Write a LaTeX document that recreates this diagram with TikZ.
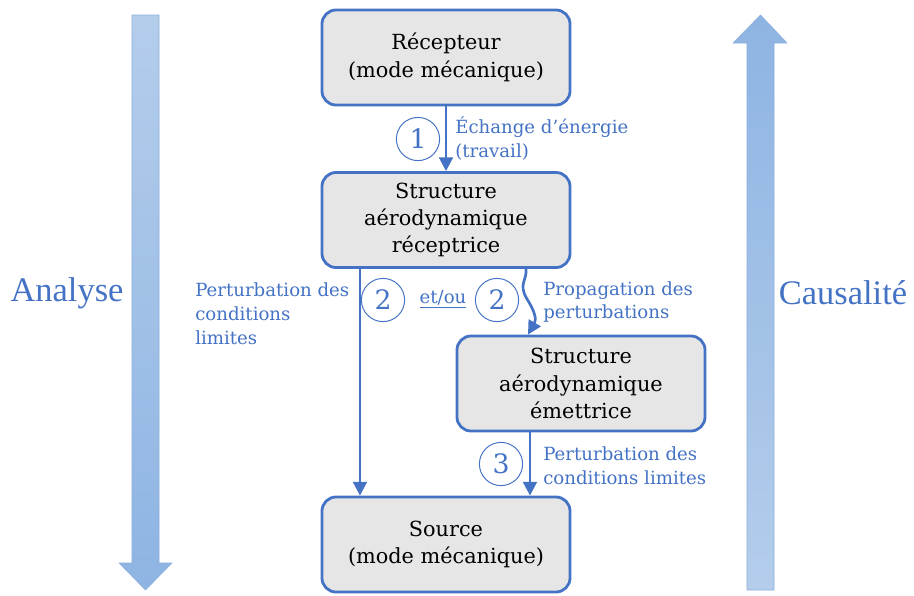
\documentclass[tikz,border=0pt]{standalone}
\usepackage{fontspec}
\setmainfont{DejaVu Serif}
\newfontfamily\bigserif{Liberation Serif}
\usetikzlibrary{arrows.meta,calc,positioning}
\definecolor{flowBlue}{HTML}{4472C4}
\definecolor{boxFill}{HTML}{E7E6E6}
\definecolor{bandLight}{HTML}{B4CDEB}
\definecolor{bandDark}{HTML}{8EB4E3}
\definecolor{bandEdge}{HTML}{8AAEDC}
\tikzset{
  box/.style={draw=flowBlue, line width=2pt, fill=boxFill, rounded corners=10pt,
    minimum width=6.2cm, minimum height=2.375cm, align=center, text=black,
    font=\fontsize{14.8}{19.5}\selectfont},
  flow/.style={flowBlue, line width=1.9pt, -{Triangle[length=3.4mm,width=3.4mm]}},
  stepnum/.style={circle, draw=flowBlue, line width=0.7pt, minimum size=1.08cm,
    inner sep=0pt, text=flowBlue, font=\fontsize{19}{19}\selectfont},
  note/.style={text=flowBlue, align=left, inner sep=0pt, anchor=west,
    font=\fontsize{12.9}{17}\selectfont},
  sidelabel/.style={text=flowBlue, font=\bigserif\fontsize{24.5}{24.5}\selectfont},
}
\begin{document}
\begin{tikzpicture}[x=0.025cm, y=-0.025cm, line cap=round, line join=round]
  \useasboundingbox (0,0) rectangle (914,595);

  % ---- Side arrows ----
  \shade[top color=bandLight, bottom color=bandDark, draw=bandEdge, line width=0.4pt]
    (132,15) -- (159,15) -- (159,563) -- (172,563) -- (145.5,590)
    -- (119,563) -- (132,563) -- cycle;
  \shade[top color=bandDark, bottom color=bandLight, draw=bandEdge, line width=0.4pt]
    (747,590) -- (747,43) -- (733,43) -- (760.5,15) -- (787,43)
    -- (774,43) -- (774,590) -- cycle;
  \node[sidelabel] (analyse) at (67,293) {Analyse};
  \node[sidelabel] (causal) at (843,293) {Causalité};

  % ---- Boxes ----
  \node[box] (recv) at (446,57.5) {Récepteur\\(mode mécanique)};
  \node[box] (struct) at (446,220) {Structure\\aérodynamique\\réceptrice};
  \node[box] (emit) at (581,383.5) {Structure\\aérodynamique\\émettrice};
  \node[box] (src) at (446,544.5) {Source\\(mode mécanique)};

  % ---- Connectors ----
  \draw[flow] (recv) -- (struct);
  \draw[flow] ([xshift=-2.15cm]struct.south) -- ([xshift=-2.15cm]src.north);
  \draw[flow] ([xshift=2cm]struct.south)
    .. controls (527,281) and (518,284) .. (527,299)
    .. controls (534,310) and (537,319) .. ([xshift=-1.325cm]emit.north);
  \draw[flow] ([xshift=-1.275cm]emit.south) -- ([xshift=-1.275cm]emit.south |- src.north);

  % ---- Step numbers ----
  \node[stepnum] (one) at (418,139) {1};
  \node[stepnum] (twoA) at (383,300) {2};
  \node[stepnum] (twoB) at (497,300) {2};
  \node[stepnum] (three) at (501,464) {3};
  \node[note, anchor=center] (andor) at (443,299) {\underline{et/ou}};

  % ---- Labels ----
  \node[note] (work) at (455,138.5) {Échange d’énergie\\(travail)};
  \node[note] (bcLeft) at (195,314) {Perturbation des\\conditions\\limites};
  \node[note] (prop) at (543,302) {Propagation des\\perturbations};
  \node[note] (bcRight) at (543,466) {Perturbation des\\conditions limites};
\end{tikzpicture}
\end{document}
